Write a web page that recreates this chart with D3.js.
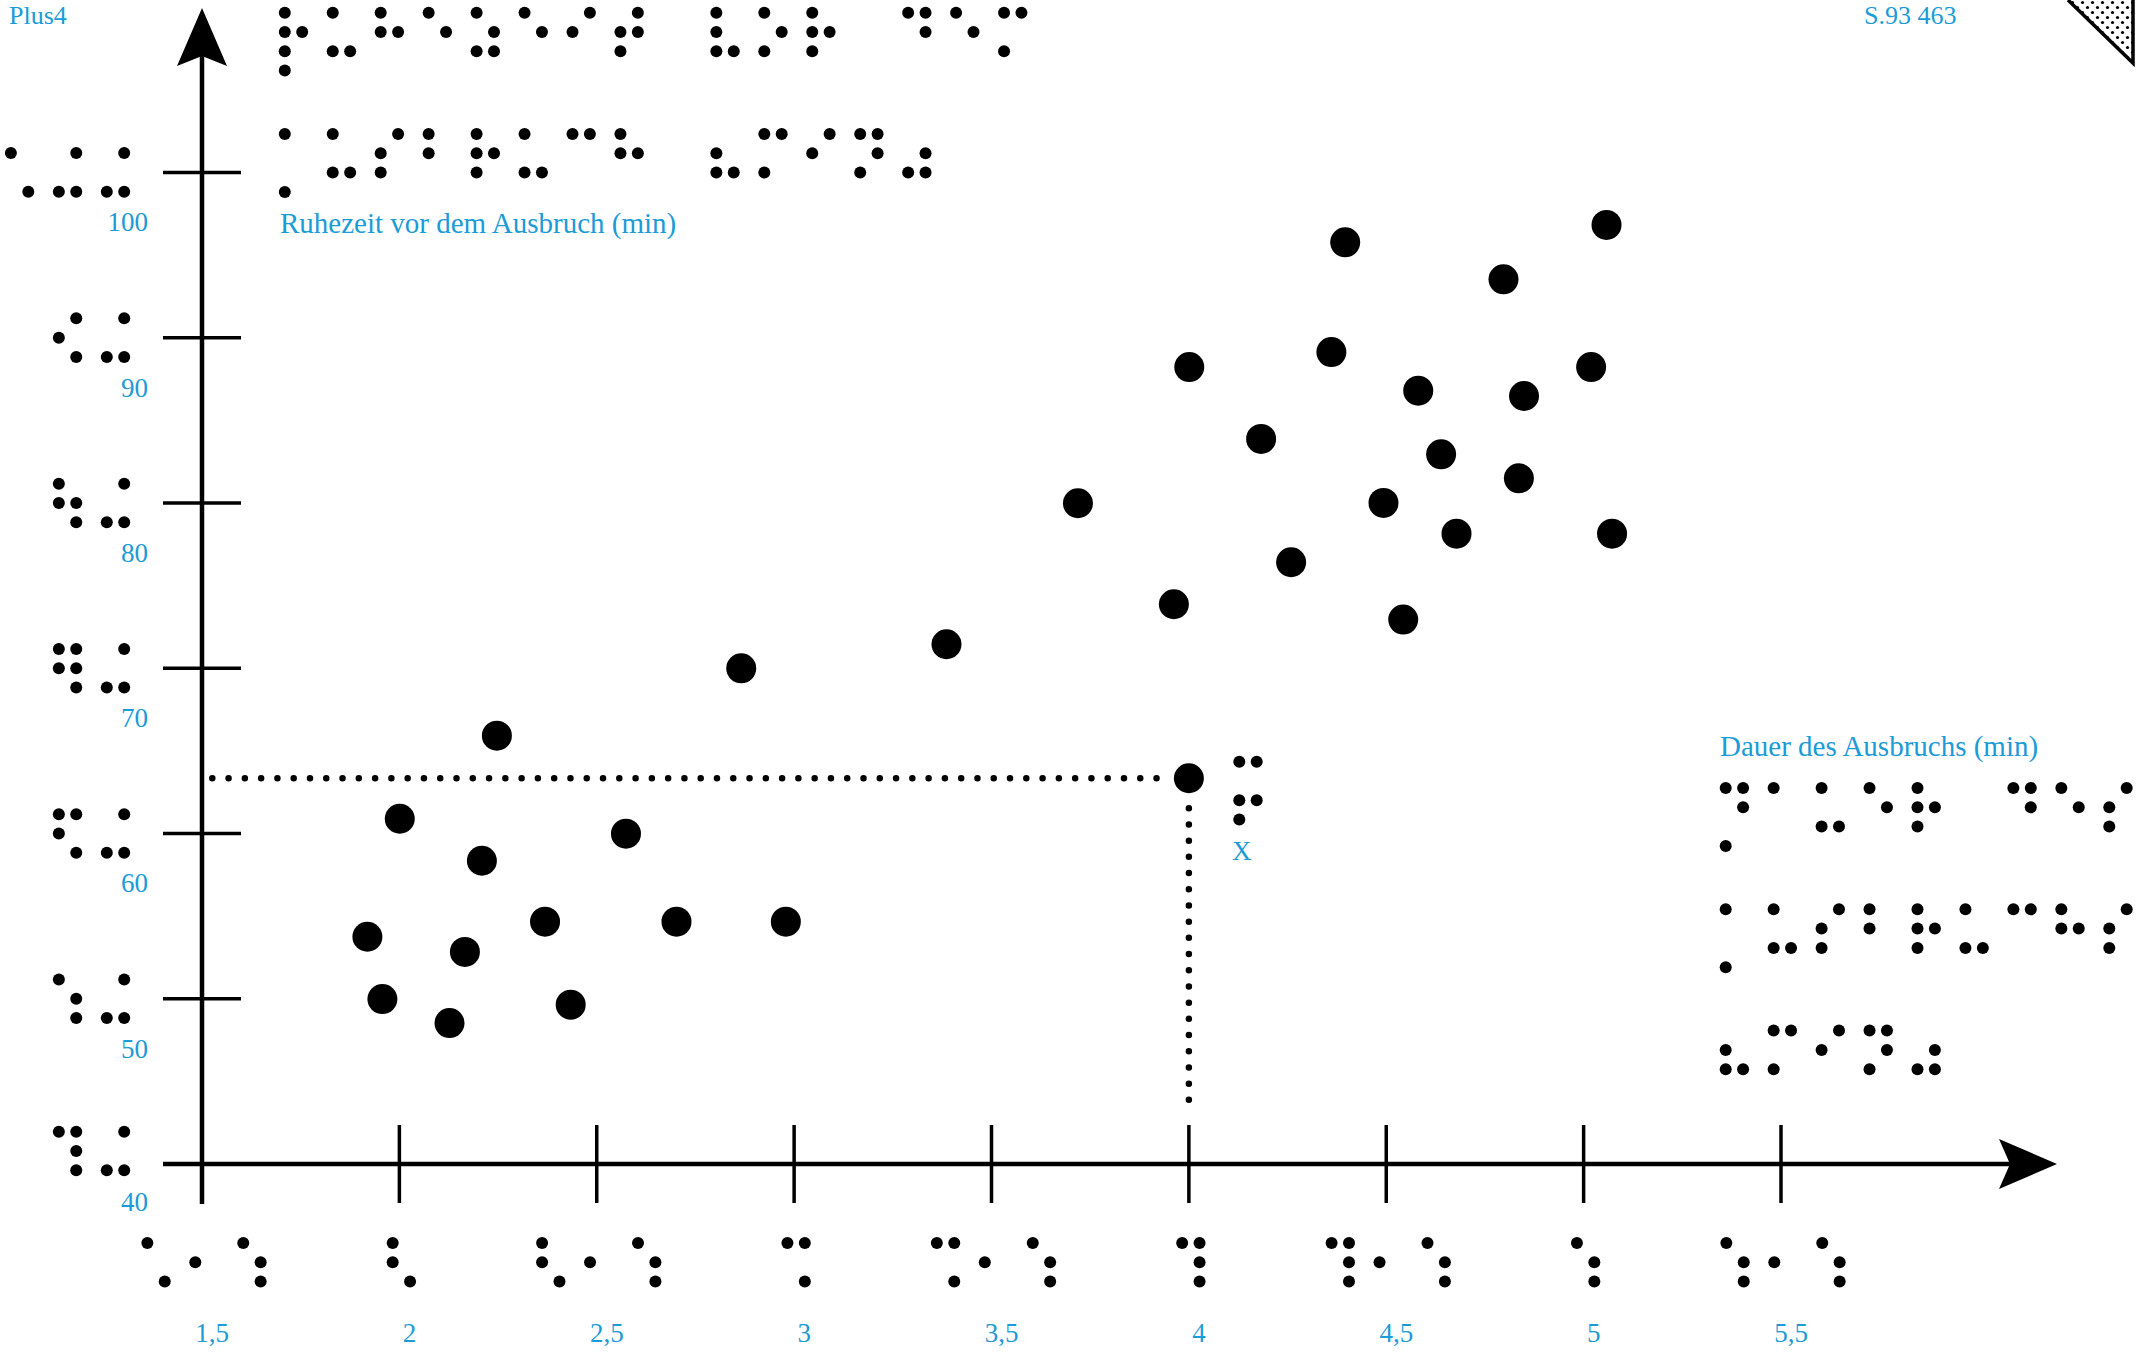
<!DOCTYPE html>
<html>
<head>
<meta charset="utf-8">
<script src="https://cdn.jsdelivr.net/npm/d3@7"></script>
<style>
  html, body { margin: 0; padding: 0; background: #ffffff; }
  svg { display: block; }
  text { font-family: "Liberation Serif", "Times New Roman", serif; fill: #1b9bd8; }
</style>
</head>
<body>
<script>
// ---------- data ----------
const duration = [1.919, 1.957, 2.001, 2.127, 2.166, 2.209, 2.247, 2.369, 2.434, 2.574, 2.702, 2.866, 2.979,
  3.386, 3.719, 3.962, 4.001, 4.0, 4.183, 4.259, 4.361, 4.396, 4.493, 4.543, 4.581, 4.639, 4.678, 4.797, 4.836,
  4.849, 5.019, 5.058, 5.072];
const waiting = [53.75, 49.98, 60.89, 48.53, 52.83, 58.35, 65.92, 54.66, 49.64, 59.99, 54.66, 69.99, 54.66,
  71.45, 79.98, 73.87, 88.22, 63.34, 83.87, 76.41, 89.13, 95.77, 80.0, 72.94, 86.79, 82.94, 78.14, 93.53, 81.49,
  86.47, 88.22, 96.82, 78.14];
const highlightIndex = 17;
const highlightLabel = "X";

const xTicks = [1.5, 2, 2.5, 3, 3.5, 4, 4.5, 5, 5.5];
const xTickLabels = ["1,5", "2", "2,5", "3", "3,5", "4", "4,5", "5", "5,5"];
const yTicks = [40, 50, 60, 70, 80, 90, 100];
const yTickLabels = ["40", "50", "60", "70", "80", "90", "100"];

const yTitle = "Ruhezeit vor dem Ausbruch (min)";
const yTitleBrailleLines = ["Ruhezeit vor dem", "Ausbruch (min)"];
const xTitle = "Dauer des Ausbruchs (min)";
const xTitleBrailleLines = ["Dauer des", "Ausbruchs", "(min)"];
const cornerLeft = "Plus4";
const cornerRight = "S.93 463";

// German 8-dot computer braille (dots per character)
const brailleTable = {
  "a": "1", "b": "12", "c": "14", "d": "145", "e": "15", "f": "124", "g": "1245", "h": "125",
  "i": "24", "j": "245", "k": "13", "l": "123", "m": "134", "n": "1345", "o": "135", "p": "1234",
  "q": "12345", "r": "1235", "s": "234", "t": "2345", "u": "136", "v": "1236", "w": "2456",
  "x": "1346", "y": "13456", "z": "1356",
  "1": "16", "2": "126", "3": "146", "4": "1456", "5": "156", "6": "1246", "7": "12456",
  "8": "1256", "9": "246", "0": "346",
  ",": "2", "(": "236", ")": "356", " ": ""
};

// ---------- layout ----------
const W = 2145, H = 1359;
const BLACK = "#000000";
const cellPitch = 47.95, dotPitchX = 17.4, dotPitchY = 19.3, dotR = 6;

const svg = d3.select("body").append("svg").attr("width", W).attr("height", H);

const x = d3.scaleLinear().domain([1.5, 5.5]).range([202, 1781]);
const y = d3.scaleLinear().domain([40, 100]).range([1164, 172.4]);

function brailleDots(str) {
  const dots = [];
  const colOf = {1: 0, 2: 0, 3: 0, 7: 0, 4: 1, 5: 1, 6: 1, 8: 1};
  const rowOf = {1: 0, 2: 1, 3: 2, 7: 3, 4: 0, 5: 1, 6: 2, 8: 3};
  Array.from(str).forEach((ch, i) => {
    let code;
    if (ch >= "A" && ch <= "Z") code = brailleTable[ch.toLowerCase()] + "7";
    else code = brailleTable[ch] || "";
    for (const d of code) {
      const n = +d;
      dots.push({cx: i * cellPitch + colOf[n] * dotPitchX, cy: rowOf[n] * dotPitchY});
    }
  });
  return dots;
}
function brailleWidth(str) { return (str.length - 1) * cellPitch + dotPitchX; }

function drawBraille(parent, str, x0, y0) {
  const g = parent.append("g").attr("class", "braille").attr("transform", `translate(${x0},${y0})`);
  g.selectAll("circle").data(brailleDots(str)).join("circle")
    .attr("cx", d => d.cx).attr("cy", d => d.cy).attr("r", dotR).attr("fill", BLACK);
  return g;
}

// ---------- corner texts ----------
svg.append("text").attr("x", 9).attr("y", 24).attr("font-size", 26).text(cornerLeft);
svg.append("text").attr("x", 1864).attr("y", 24).attr("font-size", 26).text(cornerRight);

// corner triangle with dotted fill
const defs = svg.append("defs");
const pat = defs.append("pattern").attr("id", "dots").attr("patternUnits", "userSpaceOnUse")
  .attr("width", 10).attr("height", 10);
pat.append("circle").attr("cx", 2.5).attr("cy", 2.5).attr("r", 1.6).attr("fill", BLACK);
pat.append("circle").attr("cx", 7.5).attr("cy", 7.5).attr("r", 1.6).attr("fill", BLACK);
svg.append("path").attr("d", "M2068,0 L2133,0 L2133,63 Z").attr("fill", "url(#dots)");
svg.append("path").attr("d", "M2068,0 L2133,63 L2133,0").attr("fill", "none")
  .attr("stroke", BLACK).attr("stroke-width", 3.5);

// ---------- y title (braille + text) ----------
yTitleBrailleLines.forEach((line, i) => drawBraille(svg, line, 284.8, 12.7 + i * 121.3));
svg.append("text").attr("x", 280).attr("y", 233).attr("font-size", 29).text(yTitle);

// ---------- x title (text + braille) ----------
svg.append("text").attr("x", 1720).attr("y", 756).attr("font-size", 29).text(xTitle);
xTitleBrailleLines.forEach((line, i) => drawBraille(svg, line, 1725.7, 788 + i * 121.3));

// ---------- dotted guide lines to highlighted point ----------
const hx = x(duration[highlightIndex]), hy = y(waiting[highlightIndex]);
svg.append("line").attr("x1", x(1.5) + 10.3).attr("x2", hx - 20).attr("y1", hy).attr("y2", hy)
  .attr("stroke", BLACK).attr("stroke-width", 6.5).attr("stroke-linecap", "round")
  .attr("stroke-dasharray", "0 16.28");
svg.append("line").attr("x1", hx).attr("x2", hx).attr("y1", hy + 30).attr("y2", y(40) - 60)
  .attr("stroke", BLACK).attr("stroke-width", 6.5).attr("stroke-linecap", "round")
  .attr("stroke-dasharray", "0 16.2");

// ---------- y ticks ----------
const yTickG = svg.append("g").attr("class", "y-ticks");
yTickG.selectAll("line").data(yTicks).join("line")
  .attr("x1", x(1.5) - 39).attr("x2", x(1.5) + 39)
  .attr("y1", d => y(d)).attr("y2", d => y(d))
  .attr("stroke", BLACK).attr("stroke-width", 3.5);
yTicks.forEach((v, i) => {
  const low = i === 0;
  const lbl = yTickLabels[i];
  drawBraille(svg, lbl, 124.2 - brailleWidth(lbl), y(v) - dotPitchY - (low ? 13 : 0));
  svg.append("text").attr("x", 148).attr("y", y(v) + (low ? 47 : 59))
    .attr("text-anchor", "end").attr("font-size", 27).text(lbl);
});

// ---------- x ticks ----------
const xTickG = svg.append("g").attr("class", "x-ticks");
xTickG.selectAll("line").data(xTicks.slice(1)).join("line")
  .attr("x1", d => x(d)).attr("x2", d => x(d))
  .attr("y1", y(40) - 39).attr("y2", y(40) + 39)
  .attr("stroke", BLACK).attr("stroke-width", 3.5);
xTicks.forEach((v, i) => {
  const lbl = xTickLabels[i];
  drawBraille(svg, lbl, x(v) - brailleWidth(lbl) / 2 + 2, 1243);
  svg.append("text").attr("x", x(v) + 10).attr("y", 1342)
    .attr("text-anchor", "middle").attr("font-size", 27).text(lbl);
});

// ---------- axes with arrows ----------
svg.append("line").attr("x1", 163).attr("x2", 2012).attr("y1", y(40)).attr("y2", y(40))
  .attr("stroke", BLACK).attr("stroke-width", 4.5);
svg.append("path")
  .attr("d", `M2057,${y(40)} L1999,${y(40) - 25} L2010,${y(40)} L1999,${y(40) + 25} Z`)
  .attr("fill", BLACK);
svg.append("line").attr("x1", x(1.5)).attr("x2", x(1.5)).attr("y1", 1204).attr("y2", 55)
  .attr("stroke", BLACK).attr("stroke-width", 4.5);
svg.append("path")
  .attr("d", `M${x(1.5)},8 L${x(1.5) - 25},66 L${x(1.5)},56 L${x(1.5) + 25},66 Z`)
  .attr("fill", BLACK);

// ---------- points ----------
svg.append("g").attr("class", "points").selectAll("circle")
  .data(duration.map((d, i) => ({d, w: waiting[i]})))
  .join("circle")
  .attr("cx", p => x(p.d)).attr("cy", p => y(p.w)).attr("r", 15).attr("fill", BLACK);

// ---------- highlighted point label ----------
drawBraille(svg, highlightLabel, 1239.3, 761.7);
svg.append("text").attr("x", 1241.7).attr("y", 860).attr("text-anchor", "middle")
  .attr("font-size", 27).text(highlightLabel);
</script>
</body>
</html>
